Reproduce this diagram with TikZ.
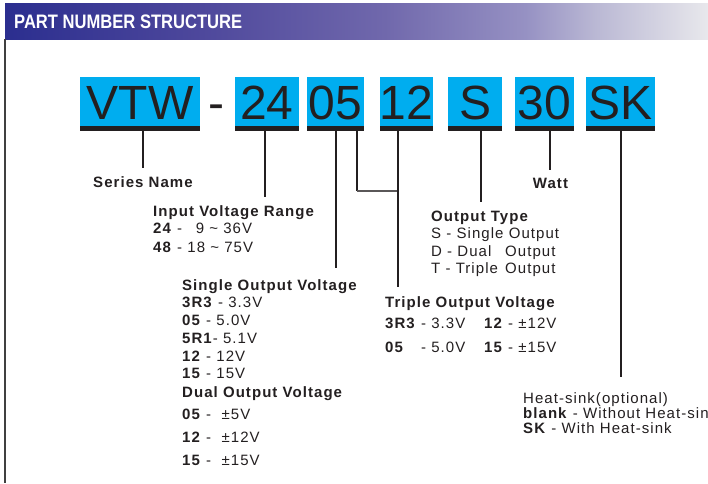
\documentclass[tikz,border=0pt]{standalone}
\usepackage{fontspec}
\usepackage{graphicx}
\setmainfont{Liberation Sans}
\newfontfamily\labelfont{Liberation Sans}[LetterSpace=7]
\newfontfamily\codefont{Liberation Sans}
\usepackage{tikz}
\usetikzlibrary{positioning}

\definecolor{inkdark}{RGB}{35,31,32}
\definecolor{codecyan}{RGB}{0,173,239}
\definecolor{bandA}{RGB}{43,46,143}
\definecolor{bandB}{RGB}{78,72,156}
\definecolor{bandC}{RGB}{112,104,172}
\definecolor{bandD}{RGB}{150,145,195}
\definecolor{bandE}{RGB}{186,184,212}
\definecolor{bandF}{RGB}{232,232,236}
\pgfdeclarehorizontalshading{headband}{100bp}{color(0bp)=(bandA); color(25bp)=(bandA);
  color(39bp)=(bandB); color(52bp)=(bandC); color(62bp)=(bandD); color(67bp)=(bandE);
  color(75bp)=(bandF); color(100bp)=(bandF)}

\begin{document}
\begin{tikzpicture}[x=1pt,y=-1pt,
  codebox/.style={fill=codecyan, text=inkdark, inner sep=0pt, minimum height=49pt,
    text height=35pt, text depth=0pt, font=\codefont\fontsize{48}{48}\selectfont},
  lbl/.style={anchor=base west, inner sep=0pt, text=inkdark,
    font=\labelfont\fontsize{15}{18}\selectfont},
  lead/.style={draw=inkdark, line width=2.2pt},
  joiner/.style={draw=inkdark!75, line width=1.3pt}]
\useasboundingbox (0,0) rectangle (708,483);
\clip (0,0) rectangle (708,483);

% heading band
\shade[shading=headband] (5,3) rectangle (708,39);
\node[anchor=base west, inner sep=0pt, text=white,
  font=\fontsize{19.5}{20}\selectfont\bfseries] (title) at (14,28)
  {\scalebox{0.85}[1]{PART NUMBER STRUCTURE}};
\draw[draw=black!75, line width=1.4pt] (5,39) -- (5,483);

% code boxes
\node[codebox, minimum width=120pt] (vtw) at (140,101.5) {VTW};
\node[codebox, fill=none] (dash) at (216.5,101.5) {-};
\node[codebox, minimum width=64pt] (vin) at (267,101.5) {24};
\node[codebox, minimum width=57pt] (vout) at (335.5,101.5) {05};
\node[codebox, minimum width=53pt] (vtri) at (406.5,101.5) {12};
\node[codebox, minimum width=54pt] (otype) at (475,101.5) {S};
\node[codebox, minimum width=59pt] (watt) at (544.5,101.5) {30};
\node[codebox, minimum width=69pt] (hsink) at (620.5,101.5) {SK};

\foreach \b in {vtw,vin,vout,vtri,otype,watt,hsink}
  \fill[inkdark] (\b.south west) rectangle ([yshift=-5pt]\b.south east);

% leads
\coordinate (serEnd) at (143,168);
\coordinate (inEnd) at (265,197);
\coordinate (soEnd) at (336,268);
\coordinate (knee) at (357,191);
\coordinate (triEnd) at (398,287);
\coordinate (typEnd) at (481,202);
\coordinate (wattEnd) at (550,170);
\coordinate (hsEnd) at (621,377);

\draw[lead] (serEnd |- vtw.south) -- (serEnd);
\draw[lead] (inEnd |- vin.south) -- (inEnd);
\draw[lead] (soEnd |- vout.south) -- (soEnd);
\draw[lead, line width=1.8pt] (knee |- vout.south) -- (knee);
\draw[joiner] (knee) -- (knee -| triEnd);
\draw[lead] (triEnd |- vtri.south) -- (triEnd);
\draw[lead] (typEnd |- otype.south) -- (typEnd);
\draw[lead] (wattEnd |- watt.south) -- (wattEnd);
\draw[lead] (hsEnd |- hsink.south) -- (hsEnd);

% labels
\node[lbl, anchor=base] (sername) at (143.5,187) {\textbf{Series Name}};
\node[lbl, anchor=base] (wattlbl) at (551,188) {\textbf{Watt}};

\foreach \entry/\yy [count=\k] in {{\textbf{Input Voltage Range}}/216,
    {\textbf{24} - \phantom{1}9 \textasciitilde{} 36V}/233,
    {\textbf{48} - 18 \textasciitilde{} 75V}/252}
  \node[lbl] (inv\k) at (153,\yy) {\entry};

\foreach \entry/\yy [count=\k] in {{\textbf{Single Output Voltage}}/290,
    {\textbf{3R3} - 3.3V}/307, {\textbf{05} - 5.0V}/325, {\textbf{5R1}- 5.1V}/343,
    {\textbf{12} - 12V}/361, {\textbf{15} - 15V}/378,
    {\textbf{Dual Output Voltage}}/397,
    {\textbf{05} - \ ±5V}/419, {\textbf{12} - \ ±12V}/442, {\textbf{15} - \ ±15V}/465}
  \node[lbl] (sov\k) at (182,\yy) {\entry};

\foreach \entry/\yy [count=\k] in {{\textbf{Output Type}}/221,
    {S - Single Output}/238, {\makebox[74pt][l]{D - Dual}Output}/256,
    {\makebox[74pt][l]{T - Triple}Output}/273}
  \node[lbl] (typ\k) at (431,\yy) {\entry};

\node[lbl] (tov1) at (385,307) {\textbf{Triple Output Voltage}};
\node[lbl] (tov2) at (385,328) {\textbf{3R3} - 3.3V};
\node[lbl] (tov3) at (385,352) {\rlap{\textbf{05}}\hphantom{\textbf{3R3}} - 5.0V};
\node[lbl] (tov4) at (484,328) {\textbf{12} - ±12V};
\node[lbl] (tov5) at (484,352) {\textbf{15} - ±15V};

\foreach \entry/\yy [count=\k] in {{Heat-sink(optional)}/403,
    {\textbf{blank} - Without Heat-sink}/418, {\textbf{SK} - With Heat-sink}/433}
  \node[lbl] (hs\k) at (523,\yy) {\entry};

\end{tikzpicture}
\end{document}
